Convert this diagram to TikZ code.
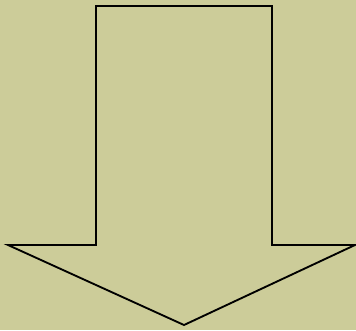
\documentclass[tikz,border=0pt]{standalone}
\usepackage{tikz}
\definecolor{ArrowKhaki}{HTML}{CCCC99}
\definecolor{ArrowInk}{HTML}{000000}

\begin{document}
\begin{tikzpicture}[
    x=0.75pt,y=-0.75pt,
    bg/.style={fill=ArrowKhaki,draw=none},
    arrowshape/.style={draw=ArrowInk,line width=1.4pt,line join=miter}
  ]
    \fill[bg] (0,0) rectangle (356,330);
    \useasboundingbox (0,0) rectangle (356,330);

    \draw[arrowshape] (96,6) -- (272,6) -- (272,245) -- (355,245)
      -- (184,325) -- (8,245) -- (96,245) -- cycle;
  \end{tikzpicture}
\end{document}
